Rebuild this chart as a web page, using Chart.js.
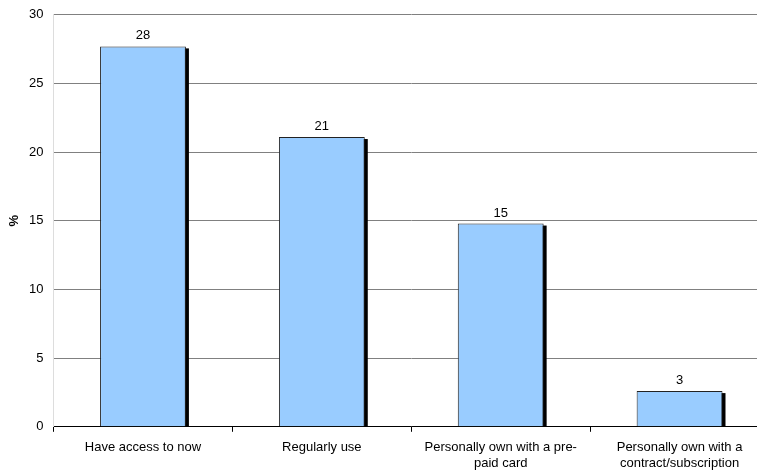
<!DOCTYPE html>
<html>
<head>
<meta charset="utf-8">
<script src="https://cdn.jsdelivr.net/npm/chart.js@4"></script>
<style>
  html, body { margin: 0; padding: 0; background: #fff; overflow: hidden; }
  #wrap { width: 769px; height: 473px; margin-top: -3px; }
</style>
</head>
<body>
<div id="wrap"><canvas id="chart"></canvas></div>
<script>
const categories = [
    'Have access to now',
    'Regularly use',
    ['Personally own with a pre-', 'paid card'],
    ['Personally own with a', 'contract/subscription']
];
const values = [27.7, 21.1, 14.8, 2.6];
const yTicks = [0, 5, 10, 15, 20, 25, 30];

// black drop shadow to the right of each bar
const barShadow = {
    id: 'barShadow',
    beforeDatasetsDraw(chart) {
        const ctx = chart.ctx;
        const meta = chart.getDatasetMeta(0);
        ctx.save();
        ctx.fillStyle = '#000';
        meta.data.forEach(bar => {
            const w = bar.width;
            ctx.fillRect(bar.x - w / 2 + 3, bar.y + 2, w, bar.base - bar.y - 2);
        });
        ctx.restore();
    }
};

// value labels above bars
const valueLabels = {
    id: 'valueLabels',
    afterDatasetsDraw(chart) {
        const ctx = chart.ctx;
        const meta = chart.getDatasetMeta(0);
        ctx.save();
        ctx.fillStyle = '#000';
        ctx.font = "13px 'Liberation Sans', Arial, sans-serif";
        ctx.textAlign = 'center';
        ctx.textBaseline = 'bottom';
        meta.data.forEach((bar, i) => {
            ctx.fillText(Math.round(values[i]), bar.x, bar.y - 4);
        });
        ctx.restore();
    }
};

Chart.defaults.font.family = "'Liberation Sans', Arial, sans-serif";
Chart.defaults.font.size = 13;
Chart.defaults.color = '#000';

new Chart(document.getElementById('chart').getContext('2d'), {
    type: 'bar',
    data: {
        labels: categories,
        datasets: [{
            data: values,
            backgroundColor: '#99ccff',
            borderColor: '#222',
            borderWidth: 1,
            borderSkipped: 'bottom',
            categoryPercentage: 0.48,
            barPercentage: 1.0
        }]
    },
    options: {
        responsive: true,
        maintainAspectRatio: false,
        animation: false,
        layout: { padding: { top: 0, right: 0, left: 0, bottom: -9 } },
        plugins: {
            legend: { display: false },
            tooltip: { enabled: false }
        },
        scales: {
            x: {
                grid: { drawOnChartArea: false, drawTicks: true, tickLength: 5, color: '#000', offset: true },
                border: { color: '#000', width: 1 },
                ticks: { padding: 8, maxRotation: 0, autoSkip: false }
            },
            y: {
                min: 0,
                max: 30,
                afterBuildTicks(axis) { axis.ticks = yTicks.map(v => ({ value: v })); },
                grid: { color: '#808080', drawTicks: false },
                border: { color: '#dddddd', width: 1 },
                ticks: { padding: 10 },
                title: { display: true, text: '%', font: { weight: 'bold', size: 13 }, padding: { top: 7, bottom: -3.5 } }
            }
        }
    },
    plugins: [barShadow, valueLabels]
});
</script>
</body>
</html>
